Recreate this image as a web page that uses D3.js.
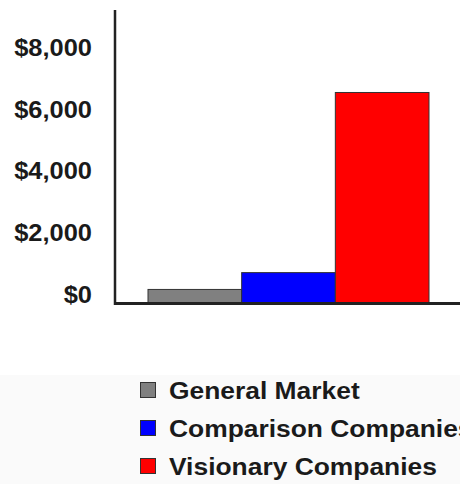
<!DOCTYPE html>
<html>
<head>
<meta charset="utf-8">
<script src="https://cdn.jsdelivr.net/npm/d3@7"></script>
<style>
  body { margin: 0; background: #fff; }
  text { font-family: "Liberation Sans", Arial, sans-serif; font-weight: bold; fill: #1a1a1a; }
</style>
</head>
<body>
<div id="chart"></div>
<script>
const categories = ["General Market", "Comparison Companies", "Visionary Companies"];
const values = [455, 1000, 6830];
const colors = ["#808080", "#0000ff", "#ff0000"];
const tickValues = [0, 2000, 4000, 6000, 8000];

const W = 460, H = 484;

const svg = d3.select("#chart")
    .append("svg")
    .attr("width", W)
    .attr("height", H);

// legend panel background (slightly off-white)
svg.append("rect")
    .attr("x", 0).attr("y", 375)
    .attr("width", W).attr("height", H - 375)
    .attr("fill", "#fafafa");

// Scales
const y = d3.scaleLinear().domain([0, 9500]).range([303.5, 10]);
const x = d3.scaleBand().domain(categories).range([148, 429]).paddingInner(0);

// Bars
svg.selectAll(".bar")
    .data(categories)
    .enter()
    .append("rect")
    .attr("class", "bar")
    .attr("x", d => x(d))
    .attr("width", x.bandwidth())
    .attr("y", (d, i) => y(values[i]))
    .attr("height", (d, i) => y(0) - y(values[i]))
    .attr("fill", (d, i) => colors[i])
    .attr("stroke", "#333")
    .attr("stroke-width", 1);

// Axes lines
svg.append("line")
    .attr("x1", 115).attr("x2", 115)
    .attr("y1", y.range()[1]).attr("y2", y(0) + 1.5)
    .attr("stroke", "#222").attr("stroke-width", 2.5);

svg.append("line")
    .attr("x1", 114).attr("x2", W)
    .attr("y1", y(0)).attr("y2", y(0))
    .attr("stroke", "#222").attr("stroke-width", 3);

// Tick labels
const fmt = d3.format("$,");
svg.selectAll(".tick-label")
    .data(tickValues)
    .enter()
    .append("text")
    .attr("class", "tick-label")
    .attr("transform", d => `translate(92,${y(d) - 0.5}) scale(1.06,1)`)
    .attr("text-anchor", "end")
    .attr("font-size", 24)
    .text(d => fmt(d));

// Legend
const legend = svg.selectAll(".legend")
    .data(categories)
    .enter()
    .append("g")
    .attr("class", "legend")
    .attr("transform", (d, i) => `translate(140,${382 + i * 38})`);

legend.append("rect")
    .attr("x", 0.5).attr("y", 0.5)
    .attr("width", 15).attr("height", 15)
    .attr("fill", (d, i) => colors[i])
    .attr("stroke", "#333")
    .attr("stroke-width", 1);

legend.append("text")
    .attr("transform", "translate(29,17) scale(1.1,1)")
    .attr("font-size", 24)
    .text(d => d);
</script>
</body>
</html>
